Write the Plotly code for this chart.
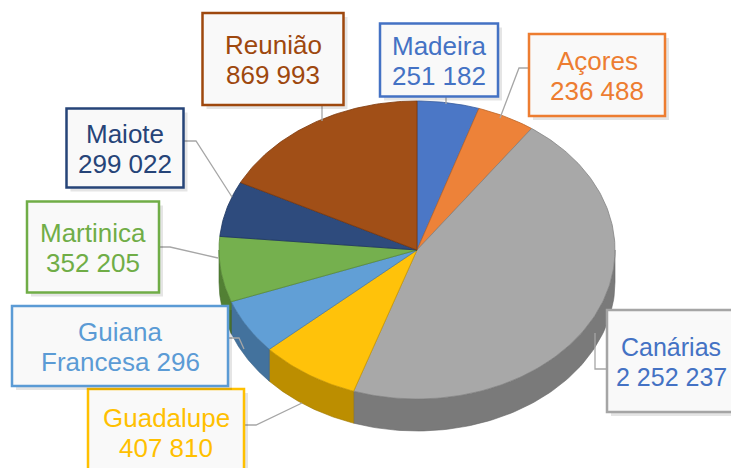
import numpy as np
import plotly.graph_objects as go

# ---------------- data ----------------
regions = ["Madeira", "Açores", "Canárias", "Guadalupe", "Guiana Francesa",
           "Martinica", "Maiote", "Reunião"]
populations = [251182, 236488, 2252237, 407810, 296000, 352205, 299022, 869993]
value_labels = ["251 182", "236 488", "2 252 237", "407 810", "296",
                "352 205", "299 022", "869 993"]
label_line1 = ["Madeira", "Açores", "Canárias", "Guadalupe", "Guiana",
               "Martinica", "Maiote", "Reunião"]
label_line2 = ["251 182", "236 488", "2 252 237", "407 810", "Francesa 296",
               "352 205", "299 022", "869 993"]

# ---------------- styles / layout ----------------
colors = ["#4472C4", "#ED7D31", "#A5A5A5", "#FFC000", "#5B9BD5",
          "#70AD47", "#264478", "#9E480E"]
text_colors = ["#4472C4", "#ED7D31", "#4472C4", "#FFC000", "#5B9BD5",
               "#70AD47", "#264478", "#9E480E"]
border_colors = colors
# label boxes: (center x, center y, width, height) in pixels
boxes = [(439, 60, 118, 73), (597, 75, 136, 82), (682, 361, 150, 102),
         (166, 432, 156, 86), (120, 346, 216, 80), (93, 247, 132, 91),
         (125, 148, 117, 79), (273, 59, 141, 92)]
text_x = [439, 597, 671, 166, 120, 93, 125, 273]
leaders = [
    [(446, 97), (446, 104)],
    [(529, 68), (519, 68), (500, 118)],
    [(607, 369), (595, 369), (595, 333)],
    [(244, 425), (256, 425), (302, 403)],
    [(228, 338), (239, 338), (244, 349)],
    [(159, 247), (170, 247), (218, 258)],
    [(184, 141), (196, 141), (232, 197)],
    [(322, 105), (322, 121)],
]

cx, cy, rx, ry, depth = 417, 250, 198, 149, 32
OFF = 8  # page body margin


def shade(hexc, f):
    hexc = hexc.lstrip("#")
    r, g, b = (int(hexc[i:i + 2], 16) for i in (0, 2, 4))
    if f < 1:
        r, g, b = (int(c * f) for c in (r, g, b))
    else:
        r, g, b = (int(c + (255 - c) * (f - 1)) for c in (r, g, b))
    return f"rgb({r},{g},{b})"


vals = np.array(populations, dtype=float)
fracs = vals / vals.sum()
ends = np.cumsum(fracs) * 2 * np.pi
starts = ends - fracs * 2 * np.pi

fig = go.Figure()

# side walls (front half visible)
for i in range(len(vals)):
    a = max(starts[i], np.pi / 2)
    b = min(ends[i], 3 * np.pi / 2)
    if a < b:
        t = np.linspace(a, b, 80)
        xs = cx + rx * np.sin(t)
        ys = cy - ry * np.cos(t)
        px = np.concatenate([xs, xs[::-1], xs[:1]])
        py = np.concatenate([ys, ys[::-1] + depth, ys[:1]])
        fig.add_trace(go.Scatter(x=px, y=py, mode="lines", fill="toself",
                                 fillcolor=shade(colors[i], 0.74),
                                 line=dict(color=shade(colors[i], 0.62), width=0.6),
                                 hoverinfo="skip", showlegend=False))

# top faces
for i in range(len(vals)):
    n = max(int(fracs[i] * 400), 8)
    t = np.linspace(starts[i], ends[i], n)
    xs = np.concatenate([[cx], cx + rx * np.sin(t), [cx]])
    ys = np.concatenate([[cy], cy - ry * np.cos(t), [cy]])
    fig.add_trace(go.Scatter(x=xs, y=ys, mode="lines", fill="toself",
                             fillcolor=shade(colors[i], 1.04),
                             line=dict(color=shade(colors[i], 0.8), width=0.8),
                             hoverinfo="skip", showlegend=False,
                             name=regions[i]))

# leader lines
for pts in leaders:
    fig.add_trace(go.Scatter(x=[p[0] for p in pts], y=[p[1] for p in pts],
                             mode="lines", line=dict(color="#A6A6A6", width=1.3),
                             hoverinfo="skip", showlegend=False))

shapes = []
annotations = []
for i, (bx, by, bw, bh) in enumerate(boxes):
    shapes.append(dict(type="rect", xref="x", yref="y",
                       x0=bx - bw / 2 + 4, x1=bx + bw / 2 + 4,
                       y0=by - bh / 2 + 4, y1=by + bh / 2 + 4,
                       line=dict(width=0), fillcolor="rgba(0,0,0,0.10)"))
    shapes.append(dict(type="rect", xref="x", yref="y",
                       x0=bx - bw / 2, x1=bx + bw / 2,
                       y0=by - bh / 2, y1=by + bh / 2,
                       line=dict(color=border_colors[i], width=2.5),
                       fillcolor="#F9F9F9"))
    for j, txt in enumerate([label_line1[i], label_line2[i]]):
        annotations.append(dict(x=text_x[i], y=by - 14 + 30 * j, xref="x", yref="y",
                                text=txt, showarrow=False, xanchor="center",
                                yanchor="middle",
                                font=dict(family="Liberation Sans, Arial",
                                          size=26 if i != 2 else 25,
                                          color=text_colors[i])))

fig.update_layout(
    width=739, height=468, margin=dict(l=0, r=0, t=0, b=0),
    paper_bgcolor="white", plot_bgcolor="white", showlegend=False,
    xaxis=dict(range=[OFF, 739 + OFF], visible=False, fixedrange=True),
    yaxis=dict(range=[468 + OFF, OFF], visible=False, fixedrange=True),
    shapes=shapes, annotations=annotations,
)

fig.write_html("out.html")
